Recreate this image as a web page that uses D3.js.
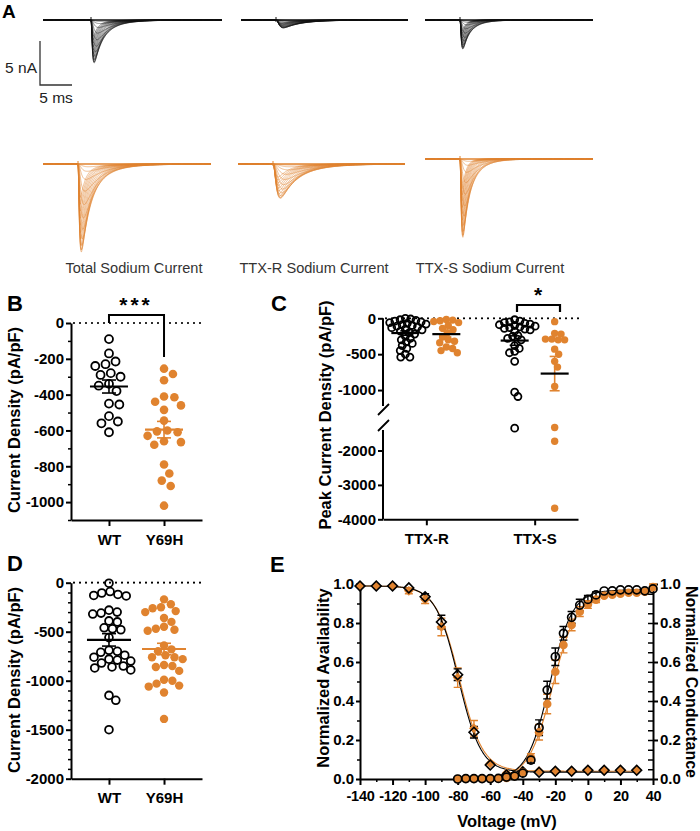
<!DOCTYPE html>
<html>
<head>
<meta charset="utf-8">
<script src="https://cdn.jsdelivr.net/npm/d3@7"></script>
<style>
body { margin: 0; background: #fff; }
text { font-family: Arial, "Liberation Sans", sans-serif; }
</style>
</head>
<body>
<script>
var width = 700,
    height = 831,
    orange = "#e0832f",
    font = "Arial, 'Liberation Sans', sans-serif";

// ---- Panel A: sodium current families (nA, ms) ----
var familyNames = ["Total Sodium Current", "TTX-R Sodium Current", "TTX-S Sodium Current"];
var wtFastAmp  = [4.4, 0, 3.3];
var wtSlowAmp  = [0.9, 0.9, 0];
var mutFastAmp = [8.6, 0, 8.9];
var mutSlowAmp = [2.5, 3.9, 0];
// relative amplitude of each voltage step, and kinetics (ms)
var stepFrac = [0.03, 0.08, 0.17, 0.3, 0.45, 0.6, 0.73, 0.84, 0.92, 0.97, 1.0, 0.98, 0.93, 0.86, 0.78, 0.7, 0.62, 0.54, 0.46, 0.38];
var fastTm = [0.45, 0.4, 0.35, 0.3, 0.27, 0.24, 0.21, 0.19, 0.17, 0.16, 0.15, 0.14, 0.13, 0.12, 0.12, 0.11, 0.11, 0.1, 0.1, 0.1];
var fastTh = [3.2, 2.8, 2.4, 2.1, 1.8, 1.6, 1.4, 1.25, 1.1, 1.0, 0.92, 0.86, 0.8, 0.76, 0.72, 0.69, 0.66, 0.64, 0.62, 0.6];
var slowTm = [1.0, 0.9, 0.8, 0.7, 0.62, 0.56, 0.5, 0.46, 0.42, 0.4, 0.38, 0.36, 0.34, 0.32, 0.3, 0.29, 0.28, 0.27, 0.26, 0.25];
var slowTh = [6.0, 5.4, 4.8, 4.3, 3.9, 3.5, 3.2, 3.0, 2.8, 2.6, 2.5, 2.4, 2.3, 2.2, 2.1, 2.0, 1.95, 1.9, 1.85, 1.8];

// ---- Panel B: current density (pA/pF) ----
var groups = ["WT", "Y69H"];
var wtB  = [-90, -170, -215, -230, -240, -280, -290, -300, -340, -350, -380, -450, -455, -520, -550, -560, -610];
var mutB = [-255, -285, -320, -410, -415, -440, -460, -485, -545, -600, -605, -610, -630, -660, -665, -680, -790, -840, -880, -910, -1020];

// ---- Panel C: peak current density by component ----
var components = ["TTX-R", "TTX-S"];
var wtCR  = [0, -10, -20, -30, -40, -50, -60, -70, -80, -90, -100, -110, -120, -130, -150, -160, -180, -200, -220, -250, -280, -300, -330, -350, -380, -420, -450, -500, -540, -540];
var mutCR = [-15, -25, -35, -45, -60, -100, -140, -160, -200, -260, -300, -320, -340, -400, -420, -450, -480];
var wtCS  = [-20, -40, -50, -60, -70, -80, -90, -100, -110, -120, -130, -140, -150, -160, -180, -240, -250, -280, -300, -380, -420, -460, -480, -600, -1030, -1090, -1350];
var mutCS = [-47, -210, -220, -290, -290, -300, -300, -430, -500, -600, -680, -950, -1330, -1730, -3680];

// ---- Panel D: current density (pA/pF) ----
var wtD  = [-5, -90, -105, -120, -130, -135, -280, -300, -310, -320, -390, -400, -460, -470, -480, -560, -690, -700, -710, -740, -760, -780, -790, -800, -820, -850, -860, -870, -890, -1150, -1200, -1500];
var mutD = [-170, -220, -250, -260, -290, -300, -360, -400, -450, -470, -480, -490, -640, -680, -700, -740, -760, -760, -780, -840, -850, -860, -900, -990, -1000, -1030, -1050, -1060, -1120, -1390];

// ---- Panel E: availability and conductance ----
var availV      = [-140, -130, -120, -110, -100, -90, -80, -70, -60, -50, -40, -30, -20, -10, 0, 10, 20, 30];
var availWT     = [0.99, 0.99, 0.99, 0.98, 0.935, 0.805, 0.535, 0.24, 0.072, 0.02, 0.037, 0.035, 0.04, 0.04, 0.045, 0.045, 0.045, 0.045];
var availWTerr  = [0.005, 0.005, 0.005, 0.008, 0.015, 0.035, 0.03, 0.03, 0.01, 0.005, 0.005, 0.005, 0.005, 0.005, 0.005, 0.005, 0.005, 0.005];
var availMut    = [0.99, 0.99, 0.99, 0.965, 0.92, 0.78, 0.52, 0.26, 0.08, 0.03, 0.04, 0.04, 0.04, 0.04, 0.045, 0.045, 0.045, 0.045];
var availMutErr = [0.005, 0.005, 0.005, 0.015, 0.02, 0.045, 0.05, 0.04, 0.01, 0.005, 0.005, 0.005, 0.005, 0.005, 0.005, 0.005, 0.005, 0.005];
var condV      = [-80, -75, -70, -65, -60, -55, -50, -45, -40, -35, -30, -25, -20, -15, -10, -5, 0, 5, 10, 15, 20, 25, 30, 35, 40];
var condWT     = [0, 0.002, 0.002, 0.002, 0.002, 0.003, 0.01, 0.015, 0.03, 0.097, 0.263, 0.456, 0.627, 0.747, 0.829, 0.892, 0.921, 0.944, 0.964, 0.965, 0.97, 0.97, 0.97, 0.965, 0.975];
var condWTerr  = [0, 0, 0, 0, 0, 0, 0.005, 0.005, 0.01, 0.015, 0.04, 0.045, 0.045, 0.035, 0.03, 0.03, 0.02, 0.015, 0.01, 0.01, 0.01, 0.01, 0.01, 0.01, 0.01];
var condMut    = [0, 0.002, 0.002, 0.002, 0.002, 0.003, 0.005, 0.015, 0.035, 0.11, 0.24, 0.385, 0.55, 0.687, 0.79, 0.858, 0.895, 0.92, 0.94, 0.945, 0.95, 0.955, 0.955, 0.96, 0.985];
var condMutErr = [0, 0, 0, 0, 0, 0, 0.005, 0.005, 0.01, 0.02, 0.04, 0.05, 0.06, 0.04, 0.03, 0.025, 0.02, 0.015, 0.01, 0.01, 0.01, 0.01, 0.01, 0.01, 0.015];
// Boltzmann fit parameters
var availFitWT  = {vh: -79.5, k: 7.0, top: 0.99, bottom: 0.035};
var availFitMut = {vh: -79.0, k: 7.2, top: 0.99, bottom: 0.04};
var condFitWT   = {vh: -23.5, k: 7.0, top: 0.97};
var condFitMut  = {vh: -21.5, k: 7.5, top: 0.96};

var svg = d3.select("body").append("svg")
    .attr("width", width)
    .attr("height", height);

// plain hyphen minus, no thousands separator
var plain = function(d) { return String(d); };

function panelLabel(t, x, y, size) {
    svg.append("text").attr("x", x).attr("y", y).text(t)
	.attr("font-size", size || 22).attr("font-weight", "bold");
}

function styleAxis(g, size) {
    g.attr("font-family", font).attr("font-size", size || 15).attr("font-weight", "bold");
    g.select(".domain").attr("stroke-width", 2);
    g.selectAll(".tick line").attr("stroke-width", 2);
    g.selectAll(".tick text").attr("fill", "#000");
}

//minor ticks go in their own group, next to the main axis
function minorTicks(tr, axisFn, scale, values, size) {
    var a = svg.append("g").attr("transform", tr)
	.call(axisFn(scale).tickValues(values).tickSize(size).tickFormat(""));
    a.select(".domain").remove();
    a.selectAll("line").attr("stroke-width", 1.5);
    return a;
}

function dotted(x1, x2, y) {
    svg.append("line").attr("x1", x1).attr("x2", x2).attr("y1", y).attr("y2", y)
	.attr("stroke", "#000").attr("stroke-width", 2.2)
	.attr("stroke-dasharray", "0,6").attr("stroke-linecap", "round");
}

function yTitle(t, x, y) {
    svg.append("text").attr("transform", "translate(" + x + "," + y + ") rotate(-90)")
	.attr("text-anchor", "middle").attr("font-size", 16.5).attr("font-weight", "bold").text(t);
}

// beeswarm placement of points along x
function swarm(values, y, r) {
    var placed = [];
    var pts = values.map(function(v) { return {v: v, y: y(v)}; })
	.sort(function(a, b) { return a.y - b.y; });
    pts.forEach(function(p) {
	var cands = [0];
	placed.forEach(function(q) {
	    var dy = Math.abs(q.y - p.y);
	    if (dy < 2 * r) {
		var dx = Math.sqrt(4 * r * r - dy * dy);
		cands.push(q.x + dx, q.x - dx);
	    }
	});
	cands.sort(function(a, b) { return Math.abs(a) - Math.abs(b); });
	for (var k = 0; k < cands.length; k++) {
	    var c = cands[k], ok = true;
	    for (var j = 0; j < placed.length; j++) {
		var ddx = placed[j].x - c, ddy = placed[j].y - p.y;
		if (ddx * ddx + ddy * ddy < 4 * r * r - 0.01) { ok = false; break; }
	    }
	    if (ok) { p.x = c; break; }
	}
	placed.push(p);
    });
    return placed;
}

// scatter column with mean +/- SEM
function column(values, cx, y, opt) {
    var g = svg.append("g");
    var pts = swarm(values, y, opt.sep);
    g.selectAll("circle").data(pts).enter().append("circle")
	.attr("cx", function(d) { return cx + d.x; })
	.attr("cy", function(d) { return d.y; })
	.attr("r", opt.r)
	.attr("fill", opt.open ? "none" : orange)
	.attr("stroke", opt.open ? "#000" : "none")
	.attr("stroke-width", 1.8);
    var m = d3.mean(values),
	sem = d3.deviation(values) / Math.sqrt(values.length);
    var ec = opt.errColor, mc = opt.meanColor;
    g.append("line").attr("x1", cx).attr("x2", cx).attr("y1", y(m + sem)).attr("y2", y(m - sem))
	.attr("stroke", ec).attr("stroke-width", 1.6);
    [m + sem, m - sem].forEach(function(v) {
	g.append("line").attr("x1", cx - opt.cap).attr("x2", cx + opt.cap).attr("y1", y(v)).attr("y2", y(v))
	    .attr("stroke", ec).attr("stroke-width", 1.6);
    });
    g.append("line").attr("x1", cx - opt.mean).attr("x2", cx + opt.mean).attr("y1", y(m)).attr("y2", y(m))
	.attr("stroke", mc).attr("stroke-width", 2.2);
}

// =================== Panel A ===================
panelLabel("A", 2, 18, 19);

// kinetic waveform, normalised to unit peak
function waveform(tm, th) {
    var ts = d3.range(0, 22, 0.02);
    var g = ts.map(function(t) { return Math.pow(1 - Math.exp(-t / tm), 3) * Math.exp(-t / th); });
    var mx = d3.max(g);
    return function(t) { return t <= 0 ? 0 : Math.pow(1 - Math.exp(-t / tm), 3) * Math.exp(-t / th) / mx; };
}
var fastW = stepFrac.map(function(f, i) { return waveform(fastTm[i], fastTh[i]); });
var slowW = stepFrac.map(function(f, i) { return waveform(slowTm[i], slowTh[i]); });

var pxPerMs = 6.4, pxPerNa = 8.8;
var traceRows = [
    {fast: wtFastAmp, slow: wtSlowAmp, color: "#111", op: 0.75,
     pos: [{x0: 43, xs: 91, x1: 222, y: 20}, {x0: 241, xs: 276, x1: 408, y: 20}, {x0: 425, xs: 460, x1: 593, y: 20}]},
    {fast: mutFastAmp, slow: mutSlowAmp, color: orange, op: 0.85,
     pos: [{x0: 43, xs: 78, x1: 211, y: 164}, {x0: 238, xs: 273, x1: 405, y: 164}, {x0: 425, xs: 460, x1: 593, y: 159}]}
];

traceRows.forEach(function(row) {
    row.pos.forEach(function(p, k) {
	var x = d3.scaleLinear().domain([(p.x0 - p.xs) / pxPerMs, (p.x1 - p.xs) / pxPerMs]).range([p.x0, p.x1]);
	var y = d3.scaleLinear().domain([0, -10]).range([p.y, p.y + 10 * pxPerNa]);
	var ts = d3.range(x.domain()[0], x.domain()[1], 0.04).concat([x.domain()[1]]);
	var line = d3.line().x(function(d) { return x(d.t); }).y(function(d) { return y(d.i); });
	var g = svg.append("g");
	stepFrac.forEach(function(f, i) {
	    var pts = ts.map(function(t) {
		return {t: t, i: -f * (row.fast[k] * fastW[i](t) + row.slow[k] * slowW[i](t))};
	    });
	    g.append("path").attr("d", line(pts)).attr("fill", "none")
		.attr("stroke", row.color).attr("stroke-width", 0.6).attr("stroke-opacity", row.op);
	});
	// baseline and step artefact
	g.append("line").attr("x1", p.x0).attr("x2", p.x1).attr("y1", p.y).attr("y2", p.y)
	    .attr("stroke", row.color).attr("stroke-width", 1.4);
	g.append("line").attr("x1", p.xs).attr("x2", p.xs).attr("y1", p.y - 3).attr("y2", p.y + 2)
	    .attr("stroke", row.color).attr("stroke-width", 1);
    });
});

// scale bar
svg.append("path").attr("d", "M40,41V85H72").attr("fill", "none").attr("stroke", "#333").attr("stroke-width", 1.3);
svg.append("text").attr("x", 37).attr("y", 73).attr("text-anchor", "end").attr("font-size", 15.5).attr("fill", "#222").text("5 nA");
svg.append("text").attr("x", 56).attr("y", 103).attr("text-anchor", "middle").attr("font-size", 15.5).attr("fill", "#222").text("5 ms");

var labelX = [134, 314, 490];
familyNames.forEach(function(n, i) {
    svg.append("text").attr("x", labelX[i]).attr("y", 273).attr("text-anchor", "middle")
	.attr("font-size", 14.6).attr("fill", "#333").text(n);
});

// =================== Panel B ===================
panelLabel("B", 7, 311);
var yB = d3.scaleLinear().domain([0, -1100]).range([323, 520]);
var xB = d3.scalePoint().domain(groups).range([71, 202]).padding(0.69);
dotted(74, 202, yB(0));
minorTicks("translate(71,0)", d3.axisLeft, yB, d3.range(-100, -1101, -200), 3);
var gB = svg.append("g").attr("transform", "translate(71,0)")
    .call(d3.axisLeft(yB).tickValues(d3.range(0, -1001, -200)).tickFormat(plain).tickSize(5).tickPadding(2).tickSizeOuter(0));
styleAxis(gB);
var gBx = svg.append("g").attr("transform", "translate(0,520)")
    .call(d3.axisBottom(xB).tickSize(6).tickPadding(8).tickSizeOuter(0));
styleAxis(gBx);
yTitle("Current Density (pA/pF)", 20, 420);
column(wtB, xB("WT"), yB, {open: true, r: 4, sep: 5.2, cap: 7, mean: 19, errColor: "#000", meanColor: "#000"});
column(mutB, xB("Y69H"), yB, {open: false, r: 4.3, sep: 5.2, cap: 7, mean: 19, errColor: orange, meanColor: orange});
svg.append("path").attr("d", "M" + xB("WT") + "," + yB(0) + "V315H" + xB("Y69H") + "V357")
    .attr("fill", "none").attr("stroke", "#000").attr("stroke-width", 2);
svg.append("text").attr("x", 136).attr("y", 312).attr("text-anchor", "middle")
    .attr("font-size", 21).attr("font-weight", "bold").attr("letter-spacing", 3).text("***");

// =================== Panel C ===================
panelLabel("C", 271, 311);
var yCU = d3.scaleLinear().domain([0, -1250]).range([318.3, 408]);
var yCL = d3.scaleLinear().domain([-1200, -4000]).range([423, 519.3]);
function yC(v) { return v >= -1250 ? yCU(v) : yCL(v); }
var xC = d3.scalePoint().domain(components).range([383, 578]).padding(0.4);
dotted(386, 580, yCU(0));
var gCU = svg.append("g").attr("transform", "translate(383,0)")
    .call(d3.axisLeft(yCU).tickValues([0, -500, -1000]).tickFormat(plain).tickSize(5).tickPadding(2).tickSizeOuter(0));
styleAxis(gCU);
var gCL = svg.append("g").attr("transform", "translate(383,0)")
    .call(d3.axisLeft(yCL).tickValues([-2000, -3000, -4000]).tickFormat(plain).tickSize(5).tickPadding(2).tickSizeOuter(0));
styleAxis(gCL);
gCU.select(".domain").attr("d", "M0," + yCU(0) + "V406");
gCL.select(".domain").attr("d", "M0,430V" + yCL(-4000));
// axis break marks
svg.append("path").attr("d", "M378,415L389,404M378,431L389,420").attr("stroke", "#000").attr("stroke-width", 1.8);
var gCx = svg.append("g").attr("transform", "translate(0," + yCL(-4000) + ")")
    .call(d3.axisBottom(xC).tickSize(6).tickPadding(8).tickSizeOuter(0));
styleAxis(gCx);
yTitle("Peak Current Density (pA/pF)", 331, 415);
column(wtCR, xC("TTX-R") - 21, yC, {open: true, r: 3.5, sep: 2.7, cap: 5, mean: 14, errColor: "#000", meanColor: "#000"});
column(mutCR, xC("TTX-R") + 20, yC, {open: false, r: 3.7, sep: 3.2, cap: 5, mean: 14, errColor: orange, meanColor: "#000"});
column(wtCS, xC("TTX-S") - 20, yC, {open: true, r: 3.5, sep: 2.7, cap: 5, mean: 14, errColor: "#000", meanColor: "#000"});
column(mutCS, xC("TTX-S") + 20, yC, {open: false, r: 3.7, sep: 3.2, cap: 5, mean: 14, errColor: orange, meanColor: "#000"});
svg.append("path").attr("d", "M517,312V305H560V312")
    .attr("fill", "none").attr("stroke", "#000").attr("stroke-width", 2.2);
svg.append("text").attr("x", 538).attr("y", 302).attr("text-anchor", "middle")
    .attr("font-size", 21).attr("font-weight", "bold").text("*");

// =================== Panel D ===================
panelLabel("D", 7, 571);
var yD = d3.scaleLinear().domain([0, -2000]).range([582.7, 778.7]);
var xD = d3.scalePoint().domain(groups).range([71, 202]).padding(0.69);
dotted(74, 202, yD(0));
minorTicks("translate(71,0)", d3.axisLeft, yD, d3.range(-100, -2000, -100).filter(function(v) { return v % 500 != 0; }), 3);
var gD = svg.append("g").attr("transform", "translate(71,0)")
    .call(d3.axisLeft(yD).tickValues(d3.range(0, -2001, -500)).tickFormat(plain).tickSize(5).tickPadding(2).tickSizeOuter(0));
styleAxis(gD);
var gDx = svg.append("g").attr("transform", "translate(0,778.7)")
    .call(d3.axisBottom(xD).tickSize(6).tickPadding(8).tickSizeOuter(0));
styleAxis(gDx);
yTitle("Current Density (pA/pF)", 20, 680);
column(wtD, xD("WT"), yD, {open: true, r: 3.9, sep: 4.2, cap: 7, mean: 22, errColor: "#000", meanColor: "#000"});
column(mutD, xD("Y69H"), yD, {open: false, r: 4.2, sep: 4.2, cap: 7, mean: 22, errColor: orange, meanColor: orange});

// =================== Panel E ===================
panelLabel("E", 270, 572);
var xE = d3.scaleLinear().domain([-140, 40]).range([360, 653]);
var yE = d3.scaleLinear().domain([0, 1]).range([779, 584]);
var fmt = d3.format(".1f");

minorTicks("translate(360,0)", d3.axisLeft, yE, d3.range(0.1, 1, 0.2), 3);
var gEl = svg.append("g").attr("transform", "translate(360,0)")
    .call(d3.axisLeft(yE).tickValues(d3.range(0, 1.01, 0.2)).tickFormat(fmt).tickSize(4).tickPadding(2).tickSizeOuter(0));
styleAxis(gEl);
minorTicks("translate(653,0)", d3.axisRight, yE, d3.range(0.05, 1, 0.05), -5);
var gEr = svg.append("g").attr("transform", "translate(653,0)")
    .call(d3.axisRight(yE).tickValues(d3.range(0, 1.01, 0.2)).tickFormat(fmt).tickSize(5).tickPadding(2).tickSizeOuter(0));
styleAxis(gEr);
minorTicks("translate(0,779)", d3.axisBottom, xE, d3.range(-130, 40, 20), 3);
var gEx = svg.append("g").attr("transform", "translate(0,779)")
    .call(d3.axisBottom(xE).tickValues(d3.range(-140, 41, 20)).tickFormat(plain).tickSize(6).tickPadding(6).tickSizeOuter(0));
styleAxis(gEx, 14.5);
gEx.selectAll(".tick text").attr("letter-spacing", -0.3);

svg.append("text").attr("x", 507).attr("y", 827).attr("text-anchor", "middle")
    .attr("font-size", 16.5).attr("font-weight", "bold").text("Voltage (mV)");
yTitle("Normalized Availability", 329, 678);
svg.append("text").attr("transform", "translate(686,682) rotate(90)").attr("text-anchor", "middle")
    .attr("font-size", 16).attr("font-weight", "bold").text("Normalized Conductance");

// fits
function availFit(p) {
    return function(v) { return p.bottom + (p.top - p.bottom) / (1 + Math.exp((v - p.vh) / p.k)); };
}
function condFit(p) {
    return function(v) { return p.top / (1 + Math.exp((p.vh - v) / p.k)); };
}
var fitLine = d3.line().x(function(d) { return xE(d[0]); }).y(function(d) { return yE(d[1]); });
var vAvail = d3.range(-140, 30.1, 0.5), vCond = d3.range(-80, 40.1, 0.5);
[[availFit(availFitMut), vAvail, orange], [availFit(availFitWT), vAvail, "#000"],
 [condFit(condFitMut), vCond, orange], [condFit(condFitWT), vCond, "#000"]].forEach(function(f) {
    svg.append("path").attr("d", fitLine(f[1].map(function(v) { return [v, f[0](v)]; })))
	.attr("fill", "none").attr("stroke", f[2]).attr("stroke-width", 1.1);
});

function errBars(vs, ms, es, color) {
    var g = svg.append("g");
    vs.forEach(function(v, i) {
	if (es[i] < 0.012) return;
	var x = xE(v), y1 = yE(ms[i] + es[i]), y2 = yE(ms[i] - es[i]);
	g.append("path").attr("d", "M" + x + "," + y1 + "V" + y2 + "M" + (x - 4) + "," + y1 + "H" + (x + 4) + "M" + (x - 4) + "," + y2 + "H" + (x + 4))
	    .attr("fill", "none").attr("stroke", color).attr("stroke-width", 1.4);
    });
}
errBars(availV, availMut, availMutErr, orange);
errBars(condV, condMut, condMutErr, orange);
errBars(availV, availWT, availWTerr, "#000");
errBars(condV, condWT, condWTerr, "#000");

var diamond = d3.symbol().type(d3.symbolSquare).size(48);
svg.append("g").selectAll("path").data(availV).enter().append("path")
    .attr("d", diamond)
    .attr("transform", function(d, i) { return "translate(" + xE(d) + "," + yE(availMut[i]) + ") rotate(45)"; })
    .attr("fill", orange);
svg.append("g").selectAll("path").data(availV).enter().append("path")
    .attr("d", diamond)
    .attr("transform", function(d, i) { return "translate(" + xE(d) + "," + yE(availWT[i]) + ") rotate(45)"; })
    .attr("fill", "none").attr("stroke", "#000").attr("stroke-width", 1.6);
svg.append("g").selectAll("circle").data(condV).enter().append("circle")
    .attr("cx", function(d) { return xE(d); })
    .attr("cy", function(d, i) { return yE(condMut[i]); })
    .attr("r", 4.3).attr("fill", orange);
svg.append("g").selectAll("circle").data(condV).enter().append("circle")
    .attr("cx", function(d) { return xE(d); })
    .attr("cy", function(d, i) { return yE(condWT[i]); })
    .attr("r", 4).attr("fill", "none").attr("stroke", "#000").attr("stroke-width", 1.7);
</script>
</body>
</html>
